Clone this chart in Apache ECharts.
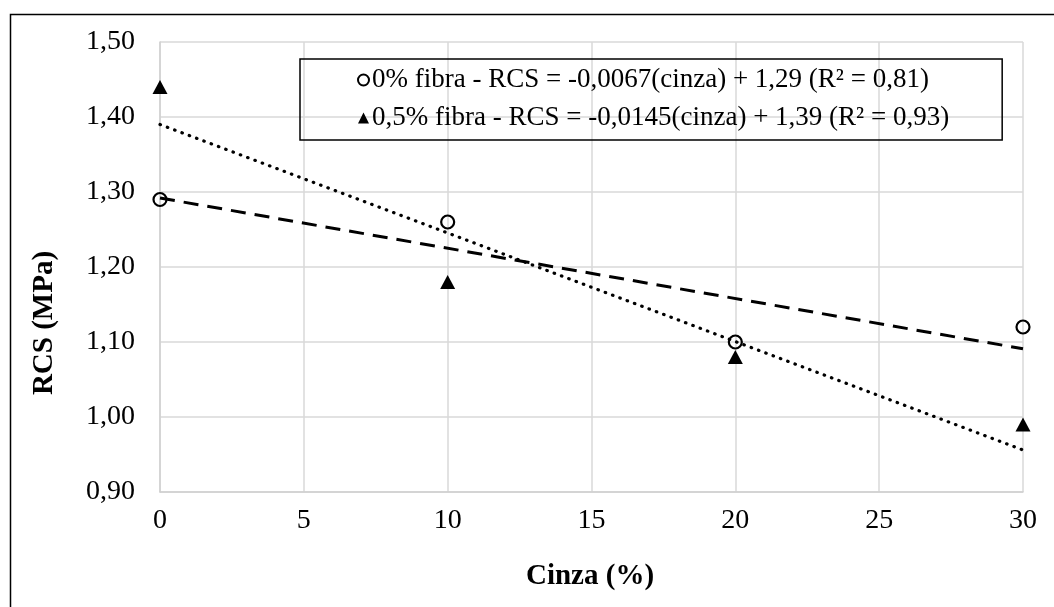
<!DOCTYPE html>
<html>
<head>
<meta charset="utf-8">
<script src="https://cdn.jsdelivr.net/npm/echarts@6/dist/echarts.min.js"></script>
<style>
html, body { margin: 0; padding: 0; background: #fff; }
#chart { width: 1054px; height: 607px; }
</style>
</head>
<body>
<div id="chart"></div>
<script>
// dados
var cinza = [0, 10, 20, 30];
var rcsSemFibra = [1.29, 1.26, 1.10, 1.12];
var rcsComFibra = [1.44, 1.18, 1.08, 0.99];
// linhas de tendência (extremos)
var trendX = [0, 30];
var trendSemFibra = [1.292, 1.091];
var trendComFibra = [1.390, 0.956];

var nomeSemFibra = '0% fibra - RCS = -0,0067(cinza) + 1,29 (R² = 0,81)';
var nomeComFibra = '0,5% fibra - RCS = -0,0145(cinza) + 1,39 (R² = 0,93)';

function pares(xs, ys) {
  return xs.map(function (x, i) { return [x, ys[i]]; });
}

var fonte = 'Liberation Serif';
var chart = echarts.init(document.getElementById('chart'));
chart.setOption({
  backgroundColor: '#fff',
  animation: false,
  grid: { left: 160, right: 31, top: 42, bottom: 115 },
  graphic: [
    {
      type: 'rect', left: 8, top: 12, silent: true,
      shape: { width: 1100, height: 700 },
      style: { fill: 'none', stroke: '#000', lineWidth: 1.5 }
    },
    {
      type: 'text', x: 590, y: 577,
      style: { text: 'Cinza (%)', font: 'bold 29px "' + fonte + '"', fill: '#000', align: 'center', verticalAlign: 'middle' }
    },
    {
      type: 'text', x: 45, y: 323, rotation: Math.PI / 2,
      style: { text: 'RCS (MPa)', font: 'bold 29px "' + fonte + '"', fill: '#000', align: 'center', verticalAlign: 'middle' }
    }
  ],
  legend: {
    left: 300, top: 59,
    orient: 'vertical',
    data: [
      { name: nomeSemFibra, icon: 'circle', itemStyle: { color: '#fff', borderColor: '#000', borderWidth: 2 } },
      { name: nomeComFibra, icon: 'triangle', itemStyle: { color: '#000' } }
    ],
    itemWidth: 11, itemHeight: 11, itemGap: 8,
    padding: [6, 53, 7, 57],
    borderColor: '#000', borderWidth: 1.5,
    textStyle: { fontFamily: fonte, fontSize: 27, color: '#000', lineHeight: 30, padding: [0, 0, 0, -2] }
  },
  xAxis: {
    type: 'value', min: 0, max: 30, interval: 5,
    axisLine: { show: true, lineStyle: { color: '#d0d0d0', width: 1.5 } },
    axisTick: { show: false },
    splitLine: { show: true, lineStyle: { color: '#d9d9d9', width: 1.5 } },
    axisLabel: { fontFamily: fonte, fontSize: 28, color: '#000', margin: 15 }
  },
  yAxis: {
    type: 'value', min: 0.9, max: 1.5, interval: 0.1,
    axisLine: { show: true, lineStyle: { color: '#d0d0d0', width: 1.5 } },
    axisTick: { show: false },
    splitLine: { show: true, lineStyle: { color: '#d9d9d9', width: 1.5 } },
    axisLabel: {
      fontFamily: fonte, fontSize: 28, color: '#000', margin: 25,
      formatter: function (v) { return v.toFixed(2).replace('.', ','); }
    }
  },
  series: [
    {
      name: 'tendencia0', type: 'line', data: pares(trendX, trendSemFibra),
      symbol: 'none', silent: true, z: 1,
      lineStyle: { color: '#000', width: 3, type: [15, 9] }
    },
    {
      name: 'tendencia05', type: 'line', data: pares(trendX, trendComFibra),
      symbol: 'none', silent: true, z: 1,
      lineStyle: { color: '#000', width: 3.2, type: [0.5, 7.3], cap: 'round' }
    },
    {
      name: nomeSemFibra, type: 'scatter', data: pares(cinza, rcsSemFibra),
      symbol: 'circle', symbolSize: 13, z: 3,
      itemStyle: { color: 'rgba(255,255,255,0)', borderColor: '#000', borderWidth: 2.2, opacity: 1 }
    },
    {
      name: nomeComFibra, type: 'scatter', data: pares(cinza, rcsComFibra),
      symbol: 'triangle', symbolSize: [15, 14], z: 3,
      itemStyle: { color: '#000', opacity: 1 }
    }
  ]
});
</script>
</body>
</html>
